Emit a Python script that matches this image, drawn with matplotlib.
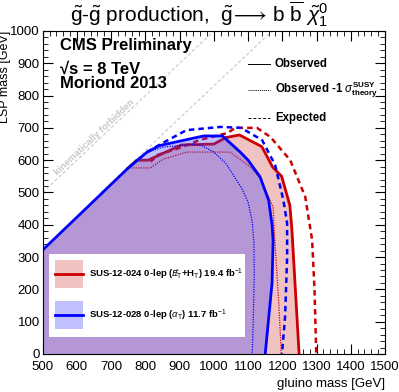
import matplotlib
matplotlib.use("Agg")
import matplotlib.pyplot as plt
from matplotlib.patches import Polygon, Rectangle
from matplotlib.ticker import MultipleLocator

plt.rcParams['font.family'] = ['Liberation Sans', 'DejaVu Sans']
plt.rcParams['mathtext.fontset'] = 'custom'
plt.rcParams['mathtext.rm'] = 'Liberation Sans'
plt.rcParams['mathtext.it'] = 'Liberation Sans:italic'
plt.rcParams['mathtext.bf'] = 'Liberation Sans:bold'

# ---- data (gluino mass, LSP mass) ----
red_obs_x = [500, 750, 775, 808, 905, 1000, 1035, 1075, 1140, 1172, 1198, 1222, 1228, 1249]
red_obs_y = [322, 576, 600, 600, 647, 650, 670, 678, 642, 578, 550, 460, 384, 0]

red_exp_x = [815, 835, 900, 960, 1040, 1062, 1126, 1165, 1223, 1267, 1287, 1294, 1299]
red_exp_y = [595, 616, 638, 663, 684, 700, 700, 672, 600, 486, 353, 200, 0]

red_m1s_x = [750, 815, 852, 921, 1047, 1105, 1135, 1173, 1178, 1190, 1197]
red_m1s_y = [576, 576, 603, 625, 625, 580, 545, 455, 353, 150, 0]

blue_obs_x = [500, 750, 805, 840, 970, 1025, 1077, 1100, 1135, 1160, 1170, 1173, 1170, 1150]
blue_obs_y = [322, 576, 625, 645, 675, 675, 625, 600, 548, 476, 400, 350, 220, 0]

blue_exp_x = [805, 845, 920, 1020, 1080, 1141, 1179, 1203, 1214, 1214, 1208, 1199]
blue_exp_y = [625, 650, 693, 703, 700, 662, 585, 476, 405, 300, 115, 0]

blue_m1s_x = [800, 850, 940, 965, 1000, 1035, 1058, 1082, 1100, 1112, 1117, 1118, 1115, 1112]
blue_m1s_y = [622, 640, 650, 645, 625, 590, 552, 512, 470, 410, 345, 250, 100, 0]

diag_offsets = [0, 170]
legend_labels = [r'SUS-12-024 0-lep ($E\!\!\!/_{\mathrm{T}}$+H$_{\mathrm{T}}$) 19.4 fb$^{-1}$',
                 r'SUS-12-028 0-lep ($\alpha_{\mathrm{T}}$) 11.7 fb$^{-1}$']
style_labels = ['Observed', r'Observed -1 $\sigma^{\mathbf{SUSY}}_{\mathbf{theory}}$', 'Expected']

RED = (0.8, 0.0, 0.0)
BLUE = (0.0, 0.0, 1.0)
PINK = (0.94, 0.76, 0.76)
BLUE_FILL = (0.25, 0.25, 1.0)
BLUE_ALPHA = 0.33

fig = plt.figure(figsize=(3.99, 3.92), dpi=100)
ax = fig.add_axes([0.107, 0.097, 0.858, 0.824])
ax.set_xlim(500, 1500)
ax.set_ylim(0, 1000)

# diagonal kinematic lines
ax.plot([500, 1000], [500, 1000], color='#c8c8c8', lw=0.8, ls=(0, (3, 2)), zorder=1)
ax.plot([500 + diag_offsets[1], 1000 + diag_offsets[1]], [500, 1000], color='#c8c8c8', lw=0.8,
        ls=(0, (3, 2)), zorder=1)
ax.text(650, 672, 'kinematically forbidden', rotation=43.3, fontsize=6.8, color='#c8c8c8',
        fontweight='bold', ha='center', va='center', rotation_mode='anchor', zorder=1)

# red filled region
red_poly = [(500, 0)] + list(zip(red_obs_x, red_obs_y))
ax.add_patch(Polygon(red_poly, closed=True, facecolor=PINK, edgecolor='none', zorder=2))
ax.plot(red_m1s_x, red_m1s_y, color=RED, lw=0.9, ls=(0, (1, 1)), zorder=3)
ax.plot(red_obs_x[1:], red_obs_y[1:], color=RED, lw=2.0, zorder=3)
ax.plot(red_exp_x, red_exp_y, color=RED, lw=1.8, ls=(0, (2.2, 1.6)), zorder=3)

# blue filled region (translucent over red)
blue_poly = [(500, 0)] + list(zip(blue_obs_x, blue_obs_y))
ax.add_patch(Polygon(blue_poly, closed=True, facecolor=BLUE_FILL, alpha=BLUE_ALPHA,
                     edgecolor='none', zorder=4))
ax.plot(blue_m1s_x, blue_m1s_y, color=BLUE, lw=0.9, ls=(0, (1, 1)), zorder=5)
ax.plot(blue_obs_x, blue_obs_y, color=BLUE, lw=2.0, zorder=5)
ax.plot(blue_exp_x, blue_exp_y, color=BLUE, lw=1.8, ls=(0, (2.2, 1.6)), zorder=5)

# legend box (bottom-left)
T = ax.transAxes
ax.add_patch(Rectangle((0.018, 0.053), 0.573, 0.257, transform=T, facecolor='white',
                       edgecolor='none', zorder=6))
ax.add_patch(Rectangle((0.036, 0.204), 0.082, 0.087, transform=T, facecolor=PINK,
                       edgecolor='none', zorder=7))
ax.plot([0.036, 0.118], [0.248, 0.248], transform=T, color=RED, lw=2.0, zorder=8)
ax.add_patch(Rectangle((0.036, 0.077), 0.082, 0.087, transform=T, facecolor=BLUE_FILL,
                       alpha=BLUE_ALPHA, edgecolor='none', zorder=7))
ax.plot([0.036, 0.118], [0.121, 0.121], transform=T, color=BLUE, lw=2.0, zorder=8)
ax.text(0.135, 0.248, legend_labels[0], transform=T, fontsize=6.8, fontweight='bold',
        va='center', ha='left', zorder=8)
ax.text(0.135, 0.121, legend_labels[1], transform=T, fontsize=6.8, fontweight='bold',
        va='center', ha='left', zorder=8)

# style legend (top-right)
sty_y = [0.898, 0.817, 0.731]
sty_ls = ['-', (0, (1, 1)), (0, (3, 2))]
for yy, ls, lab in zip(sty_y, sty_ls, style_labels):
    ax.plot([0.600, 0.665], [yy, yy], transform=T, color='black', lw=0.7, ls=ls, zorder=8)
    ax.text(0.678, yy, lab, transform=T, fontsize=8.3, fontweight='bold', va='center',
            ha='left', zorder=8)

# CMS labels
ax.text(0.05, 0.978, 'CMS Preliminary', transform=T, fontsize=12, fontweight='bold',
        va='top', ha='left')
ax.text(0.05, 0.905, '\u221As = 8 TeV', transform=T, fontsize=12, fontweight='bold',
        va='top', ha='left')
ax.text(0.05, 0.860, 'Moriond 2013', transform=T, fontsize=12, fontweight='bold',
        va='top', ha='left')

# title and axis labels
fig.text(0.5, 0.927, r'$\mathrm{\tilde{g}}$-$\mathrm{\tilde{g}}$ production,  '
         r'$\mathrm{\tilde{g}}\!\longrightarrow\, \mathrm{b}\ \overline{\mathrm{b}}\ \tilde{\chi}^{0}_{1}$',
         fontsize=15, ha='center', va='bottom')
ax.set_xlabel('gluino mass [GeV]', fontsize=9.5, loc='right', labelpad=4)
ax.set_ylabel('LSP mass [GeV]', fontsize=9, loc='top')
ax.yaxis.set_label_coords(-0.094, 1.0)

ax.xaxis.set_major_locator(MultipleLocator(100))
ax.xaxis.set_minor_locator(MultipleLocator(20))
ax.yaxis.set_major_locator(MultipleLocator(100))
ax.yaxis.set_minor_locator(MultipleLocator(20))
ax.tick_params(which='both', direction='in', top=True, right=True, labelsize=9.5, zorder=10)
ax.tick_params(axis='x', which='major', length=7, width=0.8, pad=5)
ax.tick_params(axis='y', which='major', length=7, width=0.8, pad=2)
ax.tick_params(which='minor', length=3.5, width=0.6)
for sp in ax.spines.values():
    sp.set_linewidth(0.8)
    sp.set_zorder(10)

fig.savefig('out.png', dpi=100)
